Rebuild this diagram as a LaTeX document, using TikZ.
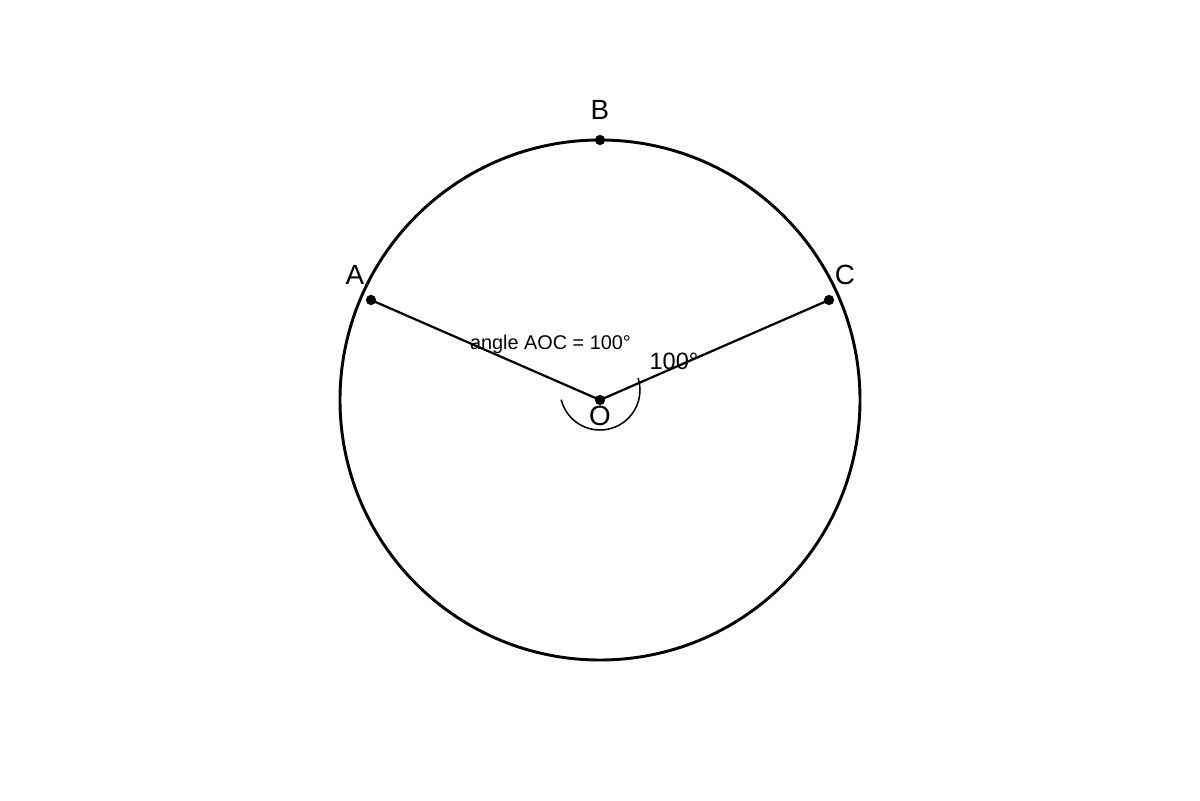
\documentclass[tikz,border=0pt]{standalone}
\usepackage{fontspec}
\setmainfont{Liberation Sans}
\begin{document}
\begin{tikzpicture}[x=0.72pt,y=0.72pt,
  dot/.style={circle,fill=black,inner sep=0pt,minimum size=7.4pt},
  lbl/.style={anchor=base,inner sep=0pt,font=\fontsize{20}{23}\selectfont},
  small/.style={anchor=base,inner sep=0pt,font=\fontsize{14.3}{17}\selectfont},
  mid/.style={anchor=base,inner sep=0pt,font=\fontsize{17}{20}\selectfont}]
\useasboundingbox (0,0) rectangle (1200,800);
\coordinate (Oc) at (600,400);
\coordinate (Ac) at (371,500);
\coordinate (Cc) at (829,500);
\coordinate (Bc) at (600,660);
\coordinate (arcc) at (600,410);
% labels
\node[small] (angtxt) at (550.5,450) {angle AOC = 100°};
\node[mid] (deg) at (674,430) {100°};
% circle
\draw[line width=2.1pt] (Oc) circle[radius=260];
% radii
\draw[line width=1.6pt] (Oc) -- (Ac);
\draw[line width=1.6pt] (Oc) -- (Cc);
% angle arc
\draw[line width=1.1pt] ([shift={(194:40)}]arcc) arc[start angle=194,end angle=377.5,radius=40];
% dots
\node[dot] (O) at (Oc) {};
\node[dot] (A) at (Ac) {};
\node[dot] (C) at (Cc) {};
\node[dot] (B) at (Bc) {};
\node[lbl] (Bl) at (600,680.5) {B};
\node[lbl] (Al) at (355,515) {A};
\node[lbl] (Cl) at (845,515) {C};
\node[lbl] (Ol) at (600,374) {O};
\end{tikzpicture}
\end{document}
